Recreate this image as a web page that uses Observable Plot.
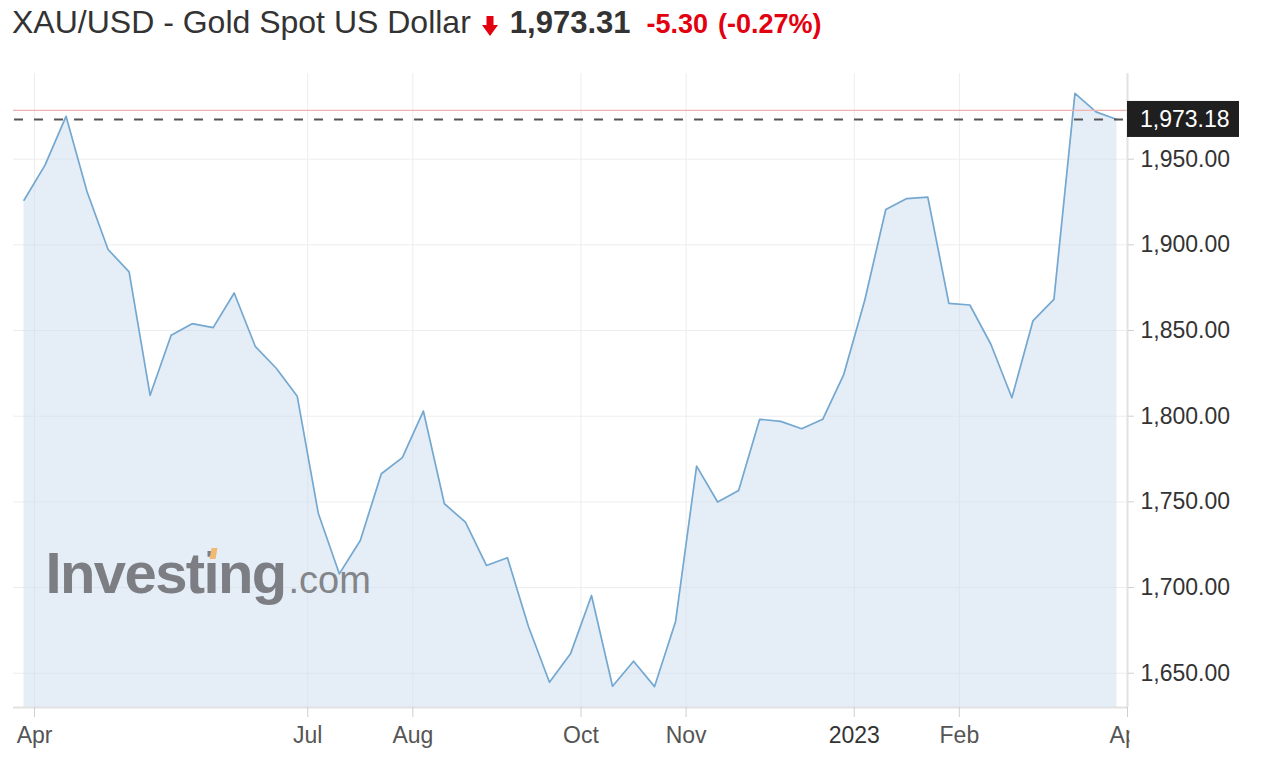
<!DOCTYPE html>
<html>
<head>
<meta charset="utf-8">
<script src="https://cdn.jsdelivr.net/npm/d3@7"></script>
<script src="https://cdn.jsdelivr.net/npm/@observablehq/plot@0.6"></script>
<style>
  body { margin: 0; background: #fff; font-family: "Liberation Sans", Arial, Helvetica, sans-serif; }
  #title { position: absolute; left: 12px; top: 4px; height: 44px; display: flex; align-items: baseline; white-space: nowrap; }
  #title .name { font-size: 32px; color: #333; }
  #title .arrow { margin-left: 11px; align-self: center; }
  #title .price { font-size: 31px; font-weight: bold; color: #333; margin-left: 12px; }
  #title .chg { font-size: 27px; font-weight: bold; color: #e3000f; margin-left: 16px; }
  #title .pct { font-size: 27px; font-weight: bold; color: #e3000f; margin-left: 10px; }
  #chart { position: absolute; left: 0; top: 50px; }
</style>
</head>
<body>
<div id="title"></div>
<div id="chart"></div>
<script>
// ---- texts ----
const instrumentName = "XAU/USD - Gold Spot US Dollar";
const lastPriceText = "1,973.31";
const changeText = "-5.30";
const changePctText = "(-0.27%)";
const watermarkMain = "Investing";
const watermarkSuffix = ".com";

// ---- data: weekly closes, first week starting 2022-03-27 ----
const firstWeek = "2022-03-27";
const weeklyCloses = [
  1926, 1946.5, 1975, 1931, 1897.3, 1884.2, 1812.2, 1847.2, 1854, 1851.7,
  1871.9, 1840.8, 1828, 1811.6, 1743.4, 1708, 1727.5, 1766.4, 1775.8, 1803,
  1748.9, 1738.2, 1712.9, 1717.4, 1677.3, 1644.7, 1661.3, 1695.4, 1642.4, 1657,
  1642.2, 1680.2, 1770.9, 1749.9, 1756.7, 1798.2, 1797, 1792.7, 1798.2, 1824.3,
  1867.7, 1920.6, 1927, 1927.8, 1865.9, 1864.9, 1842, 1810.8, 1855.6, 1868.2,
  1988.4, 1977.6, 1973.18
];
const currentValue = 1973.18;
const previousClose = 1978.48;

// ---- axes ----
const yDomain = [1630, 2000];
const yTicks = [1650, 1700, 1750, 1800, 1850, 1900, 1950];
const xTickDates = ["2022-04-01", "2022-07-01", "2022-08-01", "2022-10-01", "2022-11-01", "2023-01-01", "2023-02-01", "2023-04-01"];
const xTickLabels = ["Apr", "Jul", "Aug", "Oct", "Nov", "2023", "Feb", "Apr"];

// ---- title ----
const title = document.getElementById("title");
title.innerHTML =
  `<span class="name">${instrumentName}</span>` +
  `<svg class="arrow" width="16" height="20" viewBox="0 0 16 20"><polygon points="4.5,0 11.5,0 11.5,9 16,9 8,20 0,9 4.5,9" fill="#e3000f"/></svg>` +
  `<span class="price">${lastPriceText}</span>` +
  `<span class="chg">${changeText}</span>` +
  `<span class="pct">${changePctText}</span>`;

// ---- build table ----
const start = new Date(firstWeek + "T00:00:00Z");
const data = weeklyCloses.map((v, i) => ({ i, date: d3.utcDay.offset(start, 7 * i), v }));
const xDomain = [-0.5, data.length - 0.5];
const tickPos = xTickDates.map(s => {
  const d = new Date(s + "T00:00:00Z");
  let k = data.findIndex(w => w.date >= d);
  if (k < 0) k = data.length;
  return k - 0.5;
});
const labelOf = new Map(tickPos.map((p, j) => [p, xTickLabels[j]]));
const yearTicks = tickPos.filter((p, j) => /^\d{4}$/.test(xTickLabels[j]));
const monthTicks = tickPos.filter((p, j) => !/^\d{4}$/.test(xTickLabels[j]) && j < tickPos.length - 1);
const endTicks = [tickPos[tickPos.length - 1]];

const font = '"Liberation Sans", Arial, Helvetica, sans-serif';
const axisCommon = { tickSize: 10, tickPadding: 9, fontSize: 23, stroke: "#cfcfcf", label: null, tickFormat: p => labelOf.get(p) };

const chart = Plot.plot({
  width: 1262,
  height: 716,
  marginLeft: 13,
  marginRight: 135,
  marginTop: 23,
  marginBottom: 59,
  style: { fontFamily: font, background: "transparent", overflow: "visible" },
  x: { type: "linear", domain: xDomain, axis: null },
  y: { domain: yDomain, axis: null },
  marks: [
    Plot.gridY(yTicks, { stroke: "#ededed", strokeOpacity: 1 }),
    Plot.gridX(tickPos, { stroke: "#ededed", strokeOpacity: 1 }),
    Plot.areaY(data, { x: "i", y1: () => yDomain[0], y2: "v", fill: "rgb(204,221,240)", fillOpacity: 0.5 }),
    Plot.line(data, { x: "i", y: "v", stroke: "#74a8d0", strokeWidth: 1.7 }),
    Plot.ruleY([previousClose], { stroke: "#f2b1b1", strokeWidth: 1.3 }),
    Plot.ruleY([currentValue], { stroke: "#555", strokeWidth: 2, strokeDasharray: "9,11", strokeDashoffset: -1 }),
    Plot.ruleX([xDomain[1]], { stroke: "#e2e2e2", strokeWidth: 2 }),
    Plot.ruleY([yDomain[0]], { stroke: "#e2e2e2", strokeWidth: 2 }),
    Plot.axisY(yTicks, { anchor: "right", label: null, tickSize: 6, tickPadding: 7, fontSize: 23, stroke: "#d0d0d0", fill: "#333", tickFormat: d3.format(",.2f") }),
    Plot.axisX(monthTicks, { ...axisCommon, anchor: "bottom", fill: "#555" }),
    Plot.axisX(yearTicks, { ...axisCommon, anchor: "bottom", fill: "#333" }),
    Plot.axisX(endTicks, { ...axisCommon, anchor: "bottom", fill: "#555" })
  ]
});
document.getElementById("chart").appendChild(chart);

// ---- decorations using the plot's scales ----
const sx = chart.scale("x"), sy = chart.scale("y");
const svg = d3.select(chart);
const ns = "http://www.w3.org/2000/svg";
const xRight = sx.apply(xDomain[1]);
const yBottom = sy.apply(yDomain[0]);

// watermark, placed between area and line
const lineG = svg.select('g[aria-label="line"]').node();
const wm = document.createElementNS(ns, "g");
lineG.parentNode.insertBefore(wm, lineG);
const wmSel = d3.select(wm).attr("opacity", 0.95).attr("text-anchor", "start");
const wmX = sx.apply(0) + 22, wmY = yBottom - 114;
wmSel.append("text").attr("x", wmX).attr("y", wmY)
  .attr("font-family", font).attr("font-size", 58).attr("font-weight", "bold")
  .attr("letter-spacing", -1.6).attr("fill", "#77797d").text(watermarkMain);
wmSel.append("text").attr("x", wmX + 243).attr("y", wmY)
  .attr("font-family", font).attr("font-size", 38)
  .attr("fill", "#7e8084").text(watermarkSuffix);
wmSel.append("polygon")
  .attr("points", [[wmX + 164, wmY - 34], [wmX + 166, wmY - 45], [wmX + 172, wmY - 45], [wmX + 170, wmY - 34]].map(p => p.join(",")).join(" "))
  .attr("fill", "#f1b86c");

// current price box
const yc = sy.apply(currentValue);
const box = svg.append("g").attr("text-anchor", "start");
box.append("rect").attr("x", xRight).attr("y", yc - 18).attr("width", 112).attr("height", 36).attr("fill", "#1f1f1f");
box.append("text").attr("x", xRight + 13).attr("y", yc).attr("dy", "0.36em")
  .attr("font-family", font).attr("font-size", 23).attr("fill", "#fff").text(d3.format(",.2f")(currentValue));

// clip the final tick label at the right edge of the plot
const labels = svg.selectAll('g[aria-label="x-axis tick label"]').nodes();
const endG = labels[labels.length - 1];
const defs = svg.insert("defs", ":first-child");
defs.append("clipPath").attr("id", "end-clip").attr("clipPathUnits", "userSpaceOnUse")
  .append("rect").attr("x", 0).attr("y", -100).attr("width", xRight + 2).attr("height", 2000);
d3.select(endG).attr("clip-path", "url(#end-clip)");
</script>
</body>
</html>
